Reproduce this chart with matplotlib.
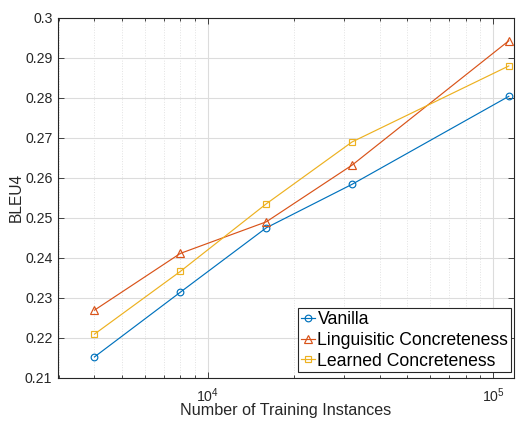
import matplotlib
matplotlib.use("Agg")
import matplotlib.pyplot as plt
from matplotlib.ticker import LogLocator, NullFormatter, MultipleLocator, FuncFormatter

plt.rcParams['font.family'] = ['Liberation Sans', 'DejaVu Sans']

train_sizes = [4000, 8000, 16000, 32000, 113287]
vanilla = [0.2152, 0.2314, 0.2475, 0.2584, 0.2804]
linguistic = [0.2269, 0.2411, 0.2490, 0.2632, 0.2943]
learned = [0.2209, 0.2366, 0.2535, 0.2690, 0.2880]
labels = ['Vanilla', 'Linguisitic Concreteness', 'Learned Concreteness']
colors = ['#0072BD', '#D95319', '#EDB120']
markers = ['o', '^', 's']
msizes = {'o': 4.8, '^': 5.4, 's': 4.0}

W, H = 516, 421
fig = plt.figure(figsize=(W / 100, H / 100), dpi=100)
ax = fig.add_axes([58 / W, 1 - 377.7 / H, (514 - 58) / W, (377.7 - 18) / H])

for ys, lab, c, m in zip([vanilla, linguistic, learned], labels, colors, markers):
    ax.plot(train_sizes, ys, color=c, marker=m, markerfacecolor='none',
            markeredgecolor=c, markersize=msizes[m],
            linewidth=0.85, markeredgewidth=0.85, label=lab)

ax.set_xscale('log')
ax.set_xlim(2980, 118150)
ax.set_ylim(0.21, 0.30)
ax.yaxis.set_major_locator(MultipleLocator(0.01))
ax.yaxis.set_major_formatter(FuncFormatter(
    lambda v, p: '0.3' if abs(v - 0.3) < 1e-9 else '%.2f' % v))
ax.xaxis.set_major_locator(LogLocator(base=10, numticks=10))
ax.xaxis.set_minor_locator(LogLocator(base=10, subs=range(2, 10), numticks=20))
ax.xaxis.set_minor_formatter(NullFormatter())

ax.grid(True, which='major', color='#dcdcdc', linewidth=0.8, linestyle='-')
ax.grid(True, which='minor', axis='x', color='#e2e2e2', linewidth=0.7, linestyle=':')
ax.set_axisbelow(True)

for s in ax.spines.values():
    s.set_color('#262626')
    s.set_linewidth(0.8)

ax.tick_params(axis='both', which='both', direction='in', top=True, right=True,
               color='#262626', labelcolor='#262626', labelsize=10.2, width=0.6)
ax.tick_params(axis='both', which='major', length=4)
ax.tick_params(axis='x', which='minor', length=2.5)
ax.tick_params(axis='x', which='major', pad=6)
ax.tick_params(axis='y', which='major', pad=4)

ax.set_xlabel('Number of Training Instances', fontsize=11.6, color='#262626')
ax.xaxis.set_label_coords(0.5, -(403.5 - 377.7) / 359.7)
ax.set_ylabel('BLEU4', fontsize=11.2, color='#262626')
ax.yaxis.set_label_coords(-(58 - 24) / 456, (377.7 - 197.5) / 359.7)

leg = ax.legend(loc='lower right', fontsize=12.7, frameon=True, fancybox=False,
                handlelength=0.8, handletextpad=0.15, borderpad=0.15,
                labelspacing=0.22, borderaxespad=0,
                bbox_to_anchor=(511 / W, 1 - 372.3 / H),
                bbox_transform=fig.transFigure)
leg.get_frame().set_edgecolor('#262626')
leg.get_frame().set_linewidth(0.8)
leg.get_frame().set_alpha(1)

fig.savefig('out.png', dpi=100)
